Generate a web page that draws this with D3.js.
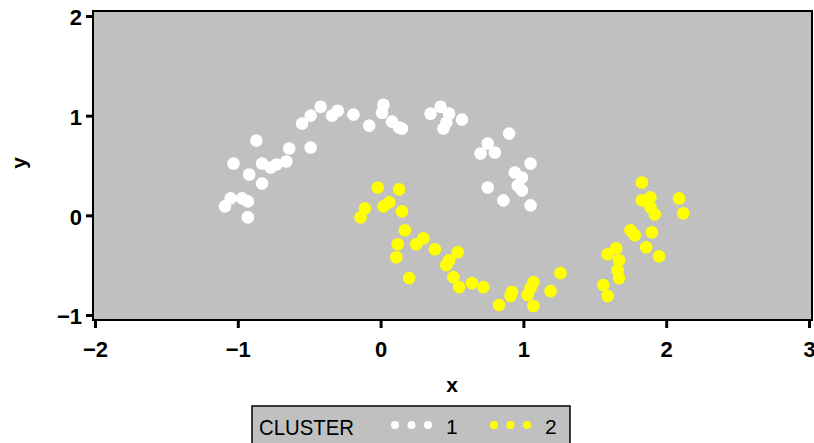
<!DOCTYPE html>
<html>
<head>
<meta charset="UTF-8" />
<title>Cluster scatter</title>
<script src="https://cdn.jsdelivr.net/npm/d3@7"></script>
<style>
body { margin: 0; background: #fff; }
.tick text { font-family: "Liberation Sans", Arial, sans-serif; font-weight: bold; font-size: 22px; }
</style>
</head>
<body>
<div id="chart"></div>
<script>
// cluster 1 (white)
var c1x = [-0.42,-0.49,-0.55,-0.30,-0.34,-0.19,-0.08,0.02,0.01,0.08,0.13,-0.87,-0.64,-0.49,-1.03,-0.83,-0.77,-0.73,-0.66,-0.92,-0.83,-1.05,-0.97,-0.93,-1.09,-0.93,
           0.35,0.42,0.48,0.46,0.44,0.57,0.15,0.90,0.75,0.70,0.80,1.05,0.94,0.99,0.96,0.99,0.75,0.86,1.05];
var c1y = [1.09,1.00,0.92,1.05,1.00,1.01,0.90,1.11,1.03,0.94,0.88,0.75,0.67,0.68,0.52,0.52,0.48,0.51,0.54,0.41,0.32,0.17,0.17,0.14,0.09,-0.02,
           1.02,1.09,1.02,0.93,0.87,0.96,0.87,0.82,0.72,0.62,0.63,0.52,0.43,0.38,0.30,0.25,0.28,0.15,0.10];
// cluster 2 (yellow)
var c2x = [-0.02,0.13,0.06,0.02,0.15,-0.11,-0.14,0.17,0.12,0.11,0.30,0.25,0.38,0.54,0.48,0.46,0.20,0.51,0.55,0.64,0.72,0.83,0.92,0.91,1.07,1.05,1.03,1.07,1.19,1.26,
           1.83,1.83,1.89,1.89,1.92,2.09,2.12,1.75,1.78,1.90,1.86,1.95,1.65,1.59,1.67,1.66,1.67,1.56,1.59];
var c2y = [0.28,0.26,0.13,0.09,0.04,0.07,-0.02,-0.15,-0.29,-0.42,-0.23,-0.29,-0.34,-0.37,-0.45,-0.50,-0.63,-0.62,-0.72,-0.68,-0.72,-0.90,-0.77,-0.81,-0.67,-0.73,-0.80,-0.91,-0.76,-0.58,
           0.33,0.15,0.18,0.08,0.01,0.17,0.02,-0.15,-0.20,-0.17,-0.32,-0.41,-0.33,-0.39,-0.45,-0.55,-0.63,-0.70,-0.81];
var xTicks = [-2, -1, 0, 1, 2, 3];
var yTicks = [-1, 0, 1, 2];
var clusters = ['1', '2'];
var colors = ['#ffffff', '#ffff00'];

var width = 814, height = 443;
var svg = d3.select('#chart').append('svg')
    .attr('width', width).attr('height', height);

var x = d3.scaleLinear().domain([-2, 3]).range([95, 809]);
var y = d3.scaleLinear().domain([-1, 2]).range([315, 16]);

// plot area
svg.append('rect')
    .attr('x', 93).attr('y', 11)
    .attr('width', 719).attr('height', 309)
    .attr('fill', '#c0c0c0').attr('stroke', '#000').attr('stroke-width', 2);

function pts(xs, ys) {
    return xs.map(function(d, i) { return {x: d, y: ys[i]}; });
}

var sets = [pts(c1x, c1y), pts(c2x, c2y)];
sets.forEach(function(s, k) {
    svg.append('g').selectAll('circle')
        .data(s).enter().append('circle')
        .attr('cx', function(d) { return x(d.x); })
        .attr('cy', function(d) { return y(d.y); })
        .attr('r', 6.3)
        .attr('fill', colors[k]);
});

// axes
var xAxis = svg.append('g')
    .attr('transform', 'translate(0,321)')
    .call(d3.axisBottom(x).tickValues(xTicks).tickSize(7).tickPadding(13).tickFormat(d3.format('d')));
var yAxis = svg.append('g')
    .attr('transform', 'translate(92,0)')
    .call(d3.axisLeft(y).tickValues(yTicks).tickSize(6).tickPadding(4).tickFormat(d3.format('d')));
[xAxis, yAxis].forEach(function(a) {
    a.select('.domain').remove();
    a.selectAll('.tick line').attr('stroke', '#000').attr('stroke-width', 3);
    a.selectAll('.tick text').attr('fill', '#000');
});
yAxis.selectAll('.tick text').attr('dy', '0.4em');

svg.append('text')
    .attr('x', 452).attr('y', 392)
    .attr('text-anchor', 'middle')
    .style('font', 'bold 21px "Liberation Sans", Arial, sans-serif')
    .text('x');
svg.append('text')
    .attr('transform', 'translate(26,163) rotate(-90)')
    .attr('text-anchor', 'middle')
    .style('font', 'bold 21px "Liberation Sans", Arial, sans-serif')
    .text('y');

// legend
var legend = svg.append('g');
legend.append('rect')
    .attr('x', 252).attr('y', 406)
    .attr('width', 318).attr('height', 45)
    .attr('fill', '#c0c0c0').attr('stroke', '#000').attr('stroke-width', 1.5);
legend.append('text')
    .attr('x', 259).attr('y', 435)
    .attr('textLength', 95).attr('lengthAdjust', 'spacingAndGlyphs')
    .style('font', '22px "Liberation Sans", Arial, sans-serif')
    .text('CLUSTER');
var lx = [395, 494];
clusters.forEach(function(c, k) {
    [0, 1, 2].forEach(function(j) {
        legend.append('circle')
            .attr('cx', lx[k] + j * 16.5).attr('cy', 425)
            .attr('r', 4).attr('fill', colors[k]);
    });
    legend.append('text')
        .attr('x', lx[k] + 51).attr('y', 434)
        .style('font', '21px "Liberation Sans", Arial, sans-serif')
        .text(c);
});
</script>
</body>
</html>
